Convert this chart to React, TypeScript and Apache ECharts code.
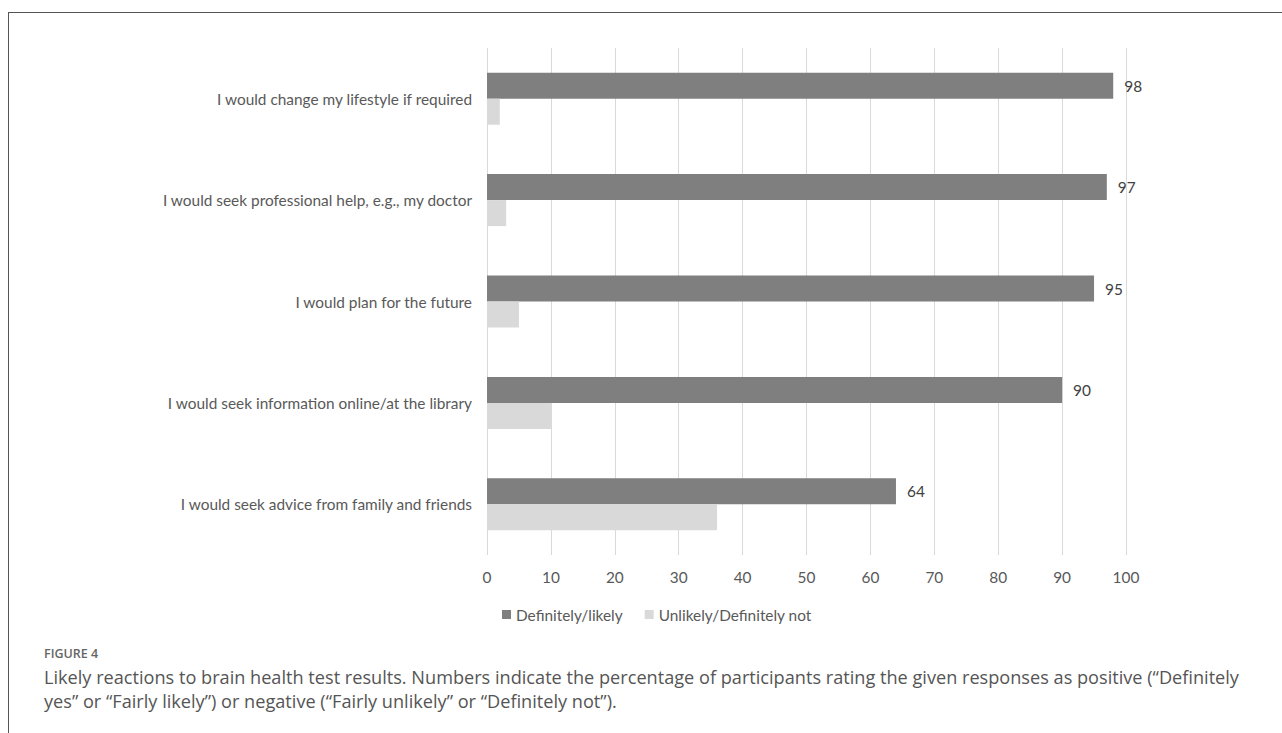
import React, { useEffect, useRef } from "react";
import * as echarts from "echarts";

const categories = [
  "I would change my lifestyle if required",
  "I would seek professional help, e.g., my doctor",
  "I would plan for the future",
  "I would seek information online/at the library",
  "I would seek advice from family and friends",
];
const positiveValues = [98, 97, 95, 90, 64];
const negativeValues = [2, 3, 5, 10, 36];
const seriesNames = ["Definitely/likely", "Unlikely/Definitely not"];
const xTicks = { min: 0, max: 100, interval: 10 };
const captionTitle = "FIGURE 4";
const captionLines = [
  "Likely reactions to brain health test results. Numbers indicate the percentage of participants rating the given responses as positive (\u201cDefinitely",
  "yes\u201d or \u201cFairly likely\u201d) or negative (\u201cFairly unlikely\u201d or \u201cDefinitely not\u201d).",
];

export default function App() {
  const ref = useRef<HTMLDivElement>(null);
  useEffect(() => {
    if (!ref.current) return;
    const chart = echarts.init(ref.current, null, { renderer: "svg" });
    const font = "Lato, 'Open Sans', sans-serif";
    const capFont = "'Open Sans', 'Noto Sans', sans-serif";
    const fs = 15.4;
    chart.setOption({
      animation: false,
      backgroundColor: "#ffffff",
      textStyle: { fontFamily: font },
      grid: { left: 487, right: 156, top: 48, bottom: 178, containLabel: false },
      legend: {
        left: 497,
        top: 602,
        itemWidth: 9,
        itemHeight: 9,
        itemGap: 22,
        icon: "rect",
        textStyle: { fontSize: fs, color: "#595959", fontFamily: font },
        data: seriesNames,
      },
      xAxis: {
        type: "value",
        min: xTicks.min,
        max: xTicks.max,
        interval: xTicks.interval,
        axisLine: { show: false },
        axisTick: { show: false },
        splitLine: { show: true, lineStyle: { color: "#d9d9d9", width: 1 } },
        axisLabel: { fontSize: fs, color: "#595959", margin: 14, fontFamily: font },
      },
      yAxis: {
        type: "category",
        data: categories,
        inverse: true,
        axisLine: { show: false },
        axisTick: { show: false },
        axisLabel: { fontSize: fs, color: "#595959", margin: 15, fontFamily: font },
      },
      series: [
        {
          name: seriesNames[0],
          type: "bar",
          data: positiveValues,
          barWidth: 26,
          barGap: "0%",
          itemStyle: { color: "#7f7f7f" },
          label: {
            show: true,
            position: "right",
            distance: 11,
            fontSize: fs,
            color: "#404040",
            fontFamily: font,
          },
        },
        {
          name: seriesNames[1],
          type: "bar",
          data: negativeValues,
          barWidth: 26,
          barGap: "0%",
          itemStyle: { color: "#d9d9d9" },
        },
      ],
      graphic: [
        {
          type: "line",
          shape: { x1: 8, y1: 12.5, x2: 1282, y2: 12.5 },
          style: { stroke: "#555555", lineWidth: 1 },
        },
        {
          type: "line",
          shape: { x1: 8.5, y1: 12, x2: 8.5, y2: 733 },
          style: { stroke: "#555555", lineWidth: 1 },
        },
        {
          type: "text",
          left: 44,
          top: 647,
          style: {
            text: captionTitle,
            fontSize: 12.5,
            fontWeight: 600,
            fill: "#666666",
            fontFamily: capFont,
          },
        },
        {
          type: "text",
          left: 44,
          top: 665,
          style: {
            text: captionLines.join("\n"),
            fontSize: 18.15,
            lineHeight: 24,
            fill: "#555555",
            fontFamily: capFont,
          },
        },
      ],
    });
    return () => chart.dispose();
  }, []);
  return (
    <div
      ref={ref}
      style={{ position: "fixed", left: 0, top: 0, width: 1282, height: 733 }}
    />
  );
}
